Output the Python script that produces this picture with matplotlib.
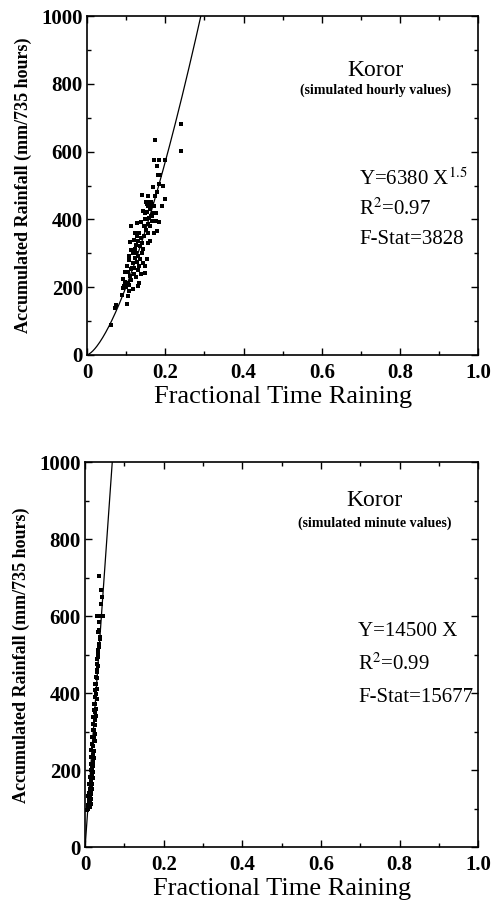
import numpy as np
import matplotlib.pyplot as plt
from matplotlib.ticker import MultipleLocator

plt.rcParams['font.family'] = ['Liberation Serif', 'DejaVu Serif']
plt.rcParams['mathtext.fontset'] = 'stix'

# --- hourly simulation (top panel) ---
hourly_x = [0.062, 0.072, 0.074, 0.089, 0.091, 0.095, 0.102, 0.105, 0.106, 0.104,
            0.110, 0.112, 0.102, 0.106, 0.110, 0.113, 0.117, 0.123, 0.127, 0.129,
            0.132, 0.136, 0.140, 0.144, 0.142, 0.148, 0.154, 0.132, 0.129, 0.148,
            0.139, 0.149, 0.153, 0.142, 0.161, 0.157, 0.166, 0.170, 0.179, 0.183,
            0.140, 0.157, 0.151, 0.154, 0.160, 0.163, 0.168, 0.174, 0.178, 0.183,
            0.191, 0.198, 0.194, 0.187, 0.181, 0.174, 0.170, 0.180, 0.185, 0.198,
            0.240, 0.240, 0.120, 0.125, 0.130, 0.135, 0.118, 0.122, 0.127, 0.115,
            0.119, 0.113, 0.108, 0.117, 0.100, 0.098, 0.104, 0.121, 0.124, 0.133,
            0.137, 0.145, 0.150, 0.155, 0.146, 0.152, 0.158, 0.163, 0.148, 0.160,
            0.165, 0.156, 0.172, 0.168, 0.162, 0.166, 0.175, 0.175, 0.155, 0.162,
            0.140, 0.128, 0.122, 0.130, 0.126, 0.138, 0.112, 0.108, 0.097, 0.093]
hourly_y = [89, 139, 148, 176, 198, 204, 149, 173, 188, 213,
            233, 252, 262, 292, 332, 381, 302, 312, 352, 292,
            262, 282, 302, 312, 272, 243, 282, 213, 203, 262,
            391, 401, 421, 426, 431, 386, 411, 361, 366, 391,
            472, 470, 450, 445, 440, 452, 495, 470, 480, 505,
            440, 460, 500, 530, 530, 634, 574, 557, 574, 574,
            683, 601, 340, 325, 335, 320, 270, 285, 275, 255,
            240, 220, 205, 195, 200, 215, 245, 255, 300, 360,
            345, 350, 370, 360, 380, 400, 405, 410, 420, 450,
            445, 440, 440, 420, 380, 395, 420, 395, 330, 335,
            330, 390, 360, 250, 230, 240, 310, 280, 245, 225]

# --- minute simulation (bottom panel) ---
minute_x = [0.036, 0.040, 0.042, 0.040, 0.031, 0.045, 0.038, 0.036, 0.036, 0.038,
            0.036, 0.034, 0.032, 0.031, 0.030, 0.028, 0.026, 0.025, 0.025, 0.023,
            0.022, 0.021, 0.020, 0.020, 0.018, 0.017, 0.016, 0.015, 0.014, 0.014,
            0.013, 0.011, 0.009, 0.013, 0.011, 0.006, 0.034, 0.037, 0.035, 0.033,
            0.031, 0.033, 0.029, 0.031, 0.028, 0.030, 0.027, 0.029, 0.026, 0.028,
            0.025, 0.027, 0.024, 0.026, 0.023, 0.025, 0.022, 0.024, 0.021, 0.023,
            0.020, 0.022, 0.019, 0.021, 0.018, 0.020, 0.017, 0.019, 0.016, 0.018,
            0.015, 0.017, 0.014, 0.016, 0.013, 0.015, 0.012, 0.014, 0.011, 0.013,
            0.010, 0.012, 0.009, 0.011, 0.008, 0.010, 0.007, 0.009, 0.008, 0.012]
minute_y = [706, 668, 650, 631, 601, 601, 601, 585, 564, 546,
            529, 512, 494, 477, 460, 442, 425, 408, 390, 373,
            356, 339, 321, 304, 287, 269, 252, 235, 217, 200,
            183, 165, 139, 131, 122, 96, 560, 540, 520, 505,
            490, 470, 455, 440, 425, 412, 398, 385, 372, 360,
            350, 340, 330, 318, 305, 295, 285, 275, 262, 250,
            240, 232, 222, 212, 205, 196, 188, 180, 172, 165,
            158, 150, 143, 137, 130, 125, 118, 113, 108, 104,
            140, 150, 118, 128, 110, 124, 100, 112, 132, 145]

fit_x = np.linspace(0, 1, 400)
hourly_fit = 6380 * fit_x ** 1.5
minute_fit = 14500 * fit_x

fig = plt.figure(figsize=(4.92, 9.05), dpi=100)
ax1 = fig.add_axes([0.177, 0.608, 0.795, 0.374])
ax2 = fig.add_axes([0.173, 0.064, 0.799, 0.425])

# (axes, x, y, fit, subtitle, stats lines, title y, stats y, stats step)
panels = [
    (ax1, hourly_x, hourly_y, hourly_fit, '(simulated hourly values)',
     ['Y=6380 X$^{1.5}$', 'R$^2$=0.97', 'F-Stat=3828'], 0.84, 0.52, 0.09),
    (ax2, minute_x, minute_y, minute_fit, '(simulated minute values)',
     ['Y=14500 X', 'R$^2$=0.99', 'F-Stat=15677'], 0.90, 0.56, 0.085),
]

for ax, xs, ys, fit, sub, stats, ty, sy, step in panels:
    ax.plot(fit_x, fit, color='black', lw=0.9)
    ax.scatter(xs, ys, marker='s', s=12, color='black', linewidths=0)
    ax.set_xlim(0, 1)
    ax.set_ylim(0, 1000)
    ax.xaxis.set_minor_locator(MultipleLocator(0.1))
    ax.yaxis.set_major_locator(MultipleLocator(200))
    ax.yaxis.set_minor_locator(MultipleLocator(100))
    ax.set_xticks([0, 0.2, 0.4, 0.6, 0.8, 1.0])
    ax.set_xticklabels(['0', '0.2', '0.4', '0.6', '0.8', '1.0'])
    ax.tick_params(which='both', direction='in', top=True, right=True,
                   width=1, labelsize=15)
    ax.tick_params(which='major', length=5)
    ax.tick_params(which='minor', length=3)
    ax.tick_params(axis='x', which='major', pad=6)
    ax.tick_params(axis='y', which='major', pad=3)
    for lbl in ax.get_xticklabels() + ax.get_yticklabels():
        lbl.set_fontweight('bold')
    for sp in ax.spines.values():
        sp.set_linewidth(1.2)
    ax.set_xlabel('Fractional Time Raining', fontsize=19, labelpad=2)
    ax.set_ylabel('Accumulated Rainfall (mm/735 hours)', fontsize=13,
                  fontweight='bold', labelpad=7)
    ax.text(0.737, ty, 'Koror', transform=ax.transAxes, ha='center',
            va='center', fontsize=17)
    ax.text(0.737, ty - 0.058, sub, transform=ax.transAxes, ha='center',
            va='center', fontsize=10, fontweight='bold')
    for i, s in enumerate(stats):
        ax.text(0.695, sy - i * step, s, transform=ax.transAxes,
                ha='left', va='center', fontsize=15)

fig.savefig('out.png', dpi=100)
